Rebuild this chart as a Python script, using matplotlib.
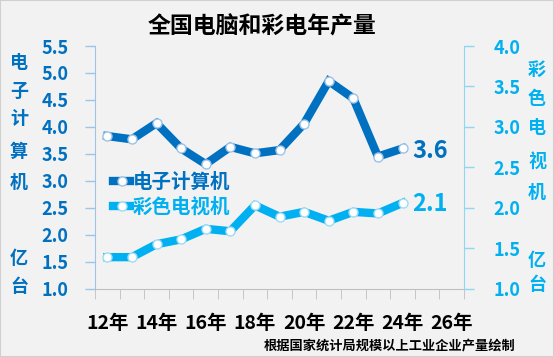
import matplotlib
matplotlib.use("Agg")
import numpy as np
import matplotlib.pyplot as plt
from matplotlib.patches import Rectangle
from matplotlib.ticker import MultipleLocator, FormatStrFormatter

# data (2012-2024)
years = list(range(2012, 2025))
pc = [3.83, 3.77, 4.07, 3.60, 3.31, 3.63, 3.51, 3.57, 4.06, 4.85, 4.53, 3.45, 3.60]
tv = [1.39, 1.39, 1.55, 1.61, 1.74, 1.71, 2.03, 1.89, 1.95, 1.84, 1.95, 1.93, 2.06]
tick_years = list(range(2012, 2027, 2))

dark = "#0070c0"
light = "#00b0f0"
bg = "#f2f2f2"

plt.rcParams["font.family"] = ["Noto Sans CJK SC", "DejaVu Sans"]
plt.rcParams["font.weight"] = "bold"

W, H = 554, 357
fig = plt.figure(figsize=(W / 100, H / 100), dpi=100, facecolor=bg)
ax = fig.add_axes([95 / W, 1 - 288.7 / H, 369 / W, 242.7 / H])
ax.set_facecolor(bg)
ax2 = ax.twinx()

x = [y - 2012 for y in years]
l1, = ax.plot(x, pc, color=dark, lw=6, marker="o", ms=6.5, mfc="white",
              mec="#9dc3e6", mew=1, solid_joinstyle="miter", label="电子计算机")
l2, = ax2.plot(x, tv, color=light, lw=6, marker="o", ms=6.5, mfc="white",
               mec="#9ddcf5", mew=1, solid_joinstyle="miter", label="彩色电视机")

ax.set_xlim(-0.5, 14.5)
ax.set_ylim(1, 5.5)
ax2.set_ylim(1, 4)

# left axis
ax.yaxis.set_major_locator(MultipleLocator(0.5))
ax.yaxis.set_major_formatter(FormatStrFormatter("%.1f"))
ax.tick_params(axis="y", direction="out", length=7, width=1, color="#9dc3e6",
               labelcolor=dark, labelsize=13, pad=12)
# right axis
ax2.yaxis.set_major_locator(MultipleLocator(0.5))
ax2.yaxis.set_major_formatter(FormatStrFormatter("%.1f"))
ax2.tick_params(axis="y", direction="out", length=7, width=1, color="#8fd6f2",
                labelcolor=light, labelsize=13, pad=14)

# x axis: labels every 2 years, tick marks on bin edges
ax.set_xticks([y - 2012 for y in tick_years])
ax.set_xticklabels([f"{y % 100}年" for y in tick_years], fontsize=14, color="black")
ax.tick_params(axis="x", which="major", length=0, pad=18)
ax.set_xticks(np.arange(-0.5, 15, 1), minor=True)
ax.tick_params(axis="x", which="minor", direction="out", length=7, color="#bfbfbf")

for s in ["top", "right"]:
    ax.spines[s].set_visible(False)
ax.spines["left"].set_color("#9dc3e6")
ax.spines["bottom"].set_color("#bfbfbf")
for s in ["top", "left", "bottom"]:
    ax2.spines[s].set_visible(False)
ax2.spines["right"].set_color("#8fd6f2")

# end labels
ax.annotate(f"{pc[-1]:.1f}", xy=(x[-1], pc[-1]), xytext=(7, -2), textcoords="offset points",
            fontsize=17, color=dark, va="center", ha="left")
ax2.annotate(f"{tv[-1]:.1f}", xy=(x[-1], tv[-1]), xytext=(7, -1), textcoords="offset points",
             fontsize=17, color=light, va="center", ha="left")

leg = ax2.legend(handles=[l1, l2], loc="center left", bbox_to_anchor=(0.05, 0.388),
                 frameon=False, handlelength=0.85, handletextpad=0.15, labelspacing=0.3,
                 borderpad=0, borderaxespad=0, prop={"size": 14, "weight": "bold"})
for t, c in zip(leg.get_texts(), [dark, light]):
    t.set_color(c)

# vertical axis titles
for ch, yp in zip("电子计算机亿台", [63, 91, 119, 151, 182, 259, 286]):
    fig.text(19 / W, 1 - yp / H, ch, color=dark, fontsize=13, ha="center", va="center")
for ch, yp in zip("彩色电视机亿台", [69, 98, 127, 162, 193, 260, 285]):
    fig.text(537 / W, 1 - yp / H, ch, color=light, fontsize=13, ha="center", va="center")

fig.text(262 / W, 1 - 27 / H, "全国电脑和彩电年产量", fontsize=16.5, ha="center", va="center")
fig.text(515 / W, 1 - 345 / H, "根据国家统计局规模以上工业企业产量绘制", fontsize=9.5,
         ha="right", va="center")

fig.add_artist(Rectangle((0, 0), 1, 1, transform=fig.transFigure, fill=False,
                         ec="#d0d0d0", lw=1.5))

fig.savefig("out.png", dpi=100, facecolor=bg)
